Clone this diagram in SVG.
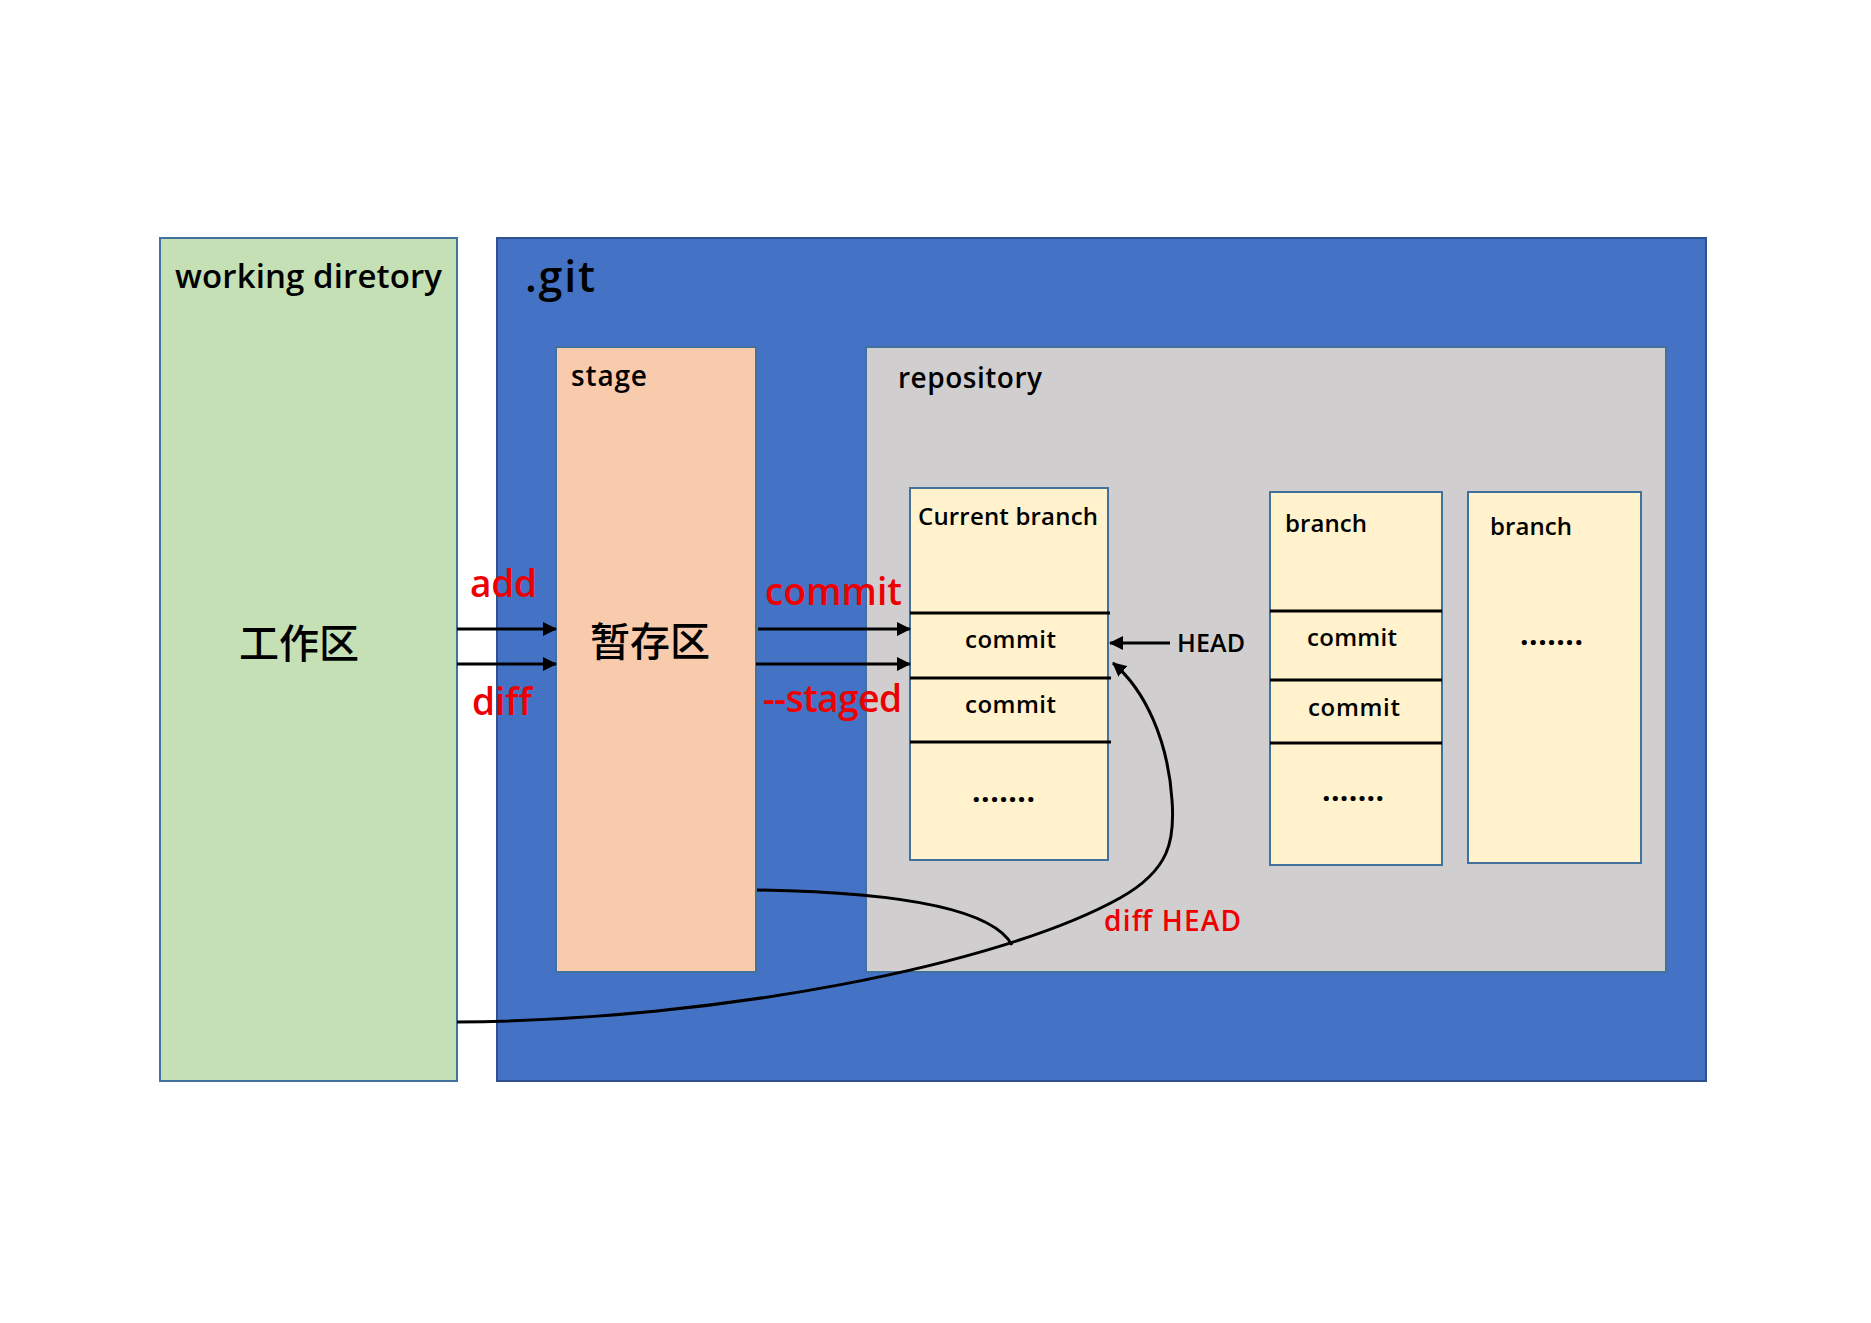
<svg xmlns="http://www.w3.org/2000/svg" width="1871" height="1323" viewBox="0 0 1871 1323">
  <style>
    .box { stroke: #41719C; stroke-width: 2; }
    .sep { stroke: #000; stroke-width: 3; }
    .t { font-family: "Open Sans", "Noto Sans", "Noto Sans CJK SC", sans-serif; fill: #000; font-weight: 600; }
    .cjk { font-family: "Noto Sans CJK SC", sans-serif; fill: #000; font-size: 40px; font-weight: 500; }
    .red { font-family: "Open Sans", "Noto Sans", sans-serif; fill: #EE0000; font-weight: 600; }
    .conn { fill: none; stroke: #000; stroke-width: 3; }
    .dots { font-weight: bold; font-size: 30px; }
  </style>
  <defs>
    <marker id="arrow" markerUnits="userSpaceOnUse" markerWidth="14" markerHeight="14" viewBox="0 0 14 14" refX="13" refY="7" orient="auto">
      <path d="M0,0 L14,7 L0,14 z" fill="#000"/>
    </marker>
  </defs>
  <rect width="1871" height="1323" fill="#fff"/>

  <g id="working-directory">
    <rect class="box" x="160" y="238" width="297" height="843" fill="#C5E0B4"/>
    <text class="t" x="175" y="288" font-size="33" textLength="267">working diretory</text>
    <text class="cjk" x="299" y="658" text-anchor="middle">工作区</text>
  </g>

  <g id="git">
    <rect x="497" y="238" width="1209" height="843" fill="#4472C4" stroke="#2F528F" stroke-width="2"/>
    <text class="t" x="525" y="292" font-size="43" textLength="70">.git</text>
  </g>

  <g id="stage">
    <rect class="box" x="556" y="347" width="200" height="625" fill="#F8CBAD"/>
    <text class="t" x="571" y="386" font-size="28" textLength="76">stage</text>
    <text class="cjk" x="650" y="656" text-anchor="middle">暂存区</text>
  </g>

  <g id="repository">
    <rect class="box" x="866" y="347" width="800" height="625" fill="#D0CECE"/>
    <text class="t" x="898" y="388" font-size="28" textLength="144">repository</text>
  </g>

  <g id="current-branch">
    <rect class="box" x="910" y="488" width="198" height="372" fill="#FFF2CC"/>
    <text class="t" x="918" y="525" font-size="24" textLength="180">Current branch</text>
    <line class="sep" x1="910" y1="613" x2="1110" y2="613"/>
    <line class="sep" x1="910" y1="678" x2="1111" y2="678"/>
    <line class="sep" x1="910" y1="742" x2="1111" y2="742"/>
    <text class="t" x="965" y="648" font-size="24" textLength="91">commit</text>
    <text class="t" x="965" y="713" font-size="24" textLength="91">commit</text>
    <text class="t dots" x="972" y="802" textLength="63">.......</text>
  </g>

  <g id="branch-2">
    <rect class="box" x="1270" y="492" width="172" height="373" fill="#FFF2CC"/>
    <text class="t" x="1285" y="532" font-size="24" textLength="82">branch</text>
    <line class="sep" x1="1270" y1="611" x2="1442" y2="611"/>
    <line class="sep" x1="1270" y1="680" x2="1442" y2="680"/>
    <line class="sep" x1="1270" y1="743" x2="1442" y2="743"/>
    <text class="t" x="1307" y="646" font-size="24" textLength="90">commit</text>
    <text class="t" x="1308" y="716" font-size="24" textLength="92">commit</text>
    <text class="t dots" x="1322" y="801" textLength="62">.......</text>
  </g>

  <g id="branch-3">
    <rect class="box" x="1468" y="492" width="173" height="371" fill="#FFF2CC"/>
    <text class="t" x="1490" y="535" font-size="24" textLength="82">branch</text>
    <text class="t dots" x="1520" y="645" textLength="63">.......</text>
  </g>

  <g id="head">
    <text class="t" x="1177" y="652" font-size="25" textLength="68">HEAD</text>
  </g>

  <g id="connectors">
    <line class="conn" x1="457" y1="629" x2="556" y2="629" marker-end="url(#arrow)"/>
    <line class="conn" x1="457" y1="664" x2="556" y2="664" marker-end="url(#arrow)"/>
    <line class="conn" x1="758" y1="629" x2="910" y2="629" marker-end="url(#arrow)"/>
    <line class="conn" x1="756" y1="664" x2="910" y2="664" marker-end="url(#arrow)"/>
    <line class="conn" x1="1170" y1="643" x2="1110" y2="643" marker-end="url(#arrow)"/>
    <path class="conn" d="M457,1022 C720,1020 1000,965 1120,898 C1170,870 1175,840 1172,800 C1168,740 1145,690 1113,663" marker-end="url(#arrow)"/>
    <path class="conn" d="M757,890 C880,892 990,905 1012,945"/>
  </g>

  <g id="labels">
    <text class="red" x="470" y="597" font-size="37" textLength="67">add</text>
    <text class="red" x="472" y="715" font-size="37" textLength="60">diff</text>
    <text class="red" x="765" y="605" font-size="37" textLength="137">commit</text>
    <text class="red" x="763" y="712" font-size="37" textLength="139">--staged</text>
    <text class="red" x="1104" y="931" font-size="28" textLength="137">diff HEAD</text>
  </g>
</svg>
